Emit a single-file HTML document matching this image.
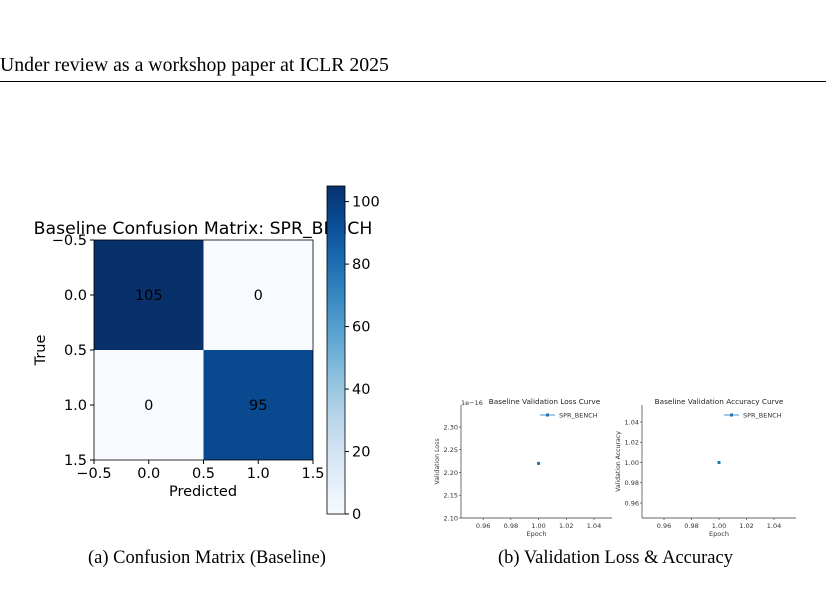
<!DOCTYPE html>
<html><head><meta charset="utf-8"><style>
body{margin:0;background:#fff;width:826px;height:602px;overflow:hidden;position:relative;font-family:"Liberation Serif",serif}
.hdr{position:absolute;left:0;top:54px;font-size:19.8px;color:#000}
.rule{position:absolute;left:0;top:81px;width:826px;height:1px;background:#000}
.cap{position:absolute;top:548px;font-size:18.5px}
svg{position:absolute;left:0;top:0}
svg text{font-family:"DejaVu Sans","Liberation Sans",sans-serif}
</style></head><body>
<div class="hdr">Under review as a workshop paper at ICLR 2025</div>
<div class="rule"></div>
<div class="cap" style="left:88px">(a) Confusion Matrix (Baseline)</div>
<div class="cap" style="left:498px">(b) Validation Loss &amp; Accuracy</div>
<svg id="s" width="826" height="602"></svg>
<script>
const cmValues=[[105,0],[0,95]];
const cmTicks=[-0.5,0.0,0.5,1.0,1.5];
const cbTicks=[0,20,40,60,80,100];
const lossEpochs=[1.0];
const lossValues=[2.22];
const lossYTicks=[2.10,2.15,2.20,2.25,2.30];
const accEpochs=[1.0];
const accValues=[1.0];
const accYTicks=[0.96,0.98,1.00,1.02,1.04];
const epochTicks=[0.96,0.98,1.00,1.02,1.04];

const S=document.getElementById('s');const NS='http://www.w3.org/2000/svg';
function el(t,a,txt){const e=document.createElementNS(NS,t);for(const k in a)e.setAttribute(k,a[k]);if(txt!==undefined)e.textContent=txt;S.appendChild(e);return e;}
function blues(v){const t=Math.max(0,Math.min(1,v/105));
 const stops=[[247,251,255],[222,235,247],[198,219,239],[158,202,225],[107,174,214],[66,146,198],[33,113,181],[8,81,156],[8,48,107]];
 const p=t*8,i=Math.min(7,Math.floor(p)),f=p-i;const a=stops[i],b=stops[i+1];
 return 'rgb('+a.map((c,k)=>Math.round(c+(b[k]-c)*f)).join(',')+')';}
// confusion matrix
const L=94,R=313,T=240,B=460;
const cx=v=>L+(v+0.5)/2*(R-L), cy=v=>T+(v+0.5)/2*(B-T);
for(let r=0;r<2;r++)for(let c=0;c<2;c++){
 const x0=cx(c-0.5),y0=cy(r-0.5);
 const rc=el('rect',{x:x0,y:y0,width:cx(c+0.5)-x0,height:cy(r+0.5)-y0,fill:blues(cmValues[r][c])});
 
 
 const tx=el('text',{x:cx(c),y:cy(r)+5,'font-size':14.5,'text-anchor':'middle',fill:'#000'},cmValues[r][c]);
 
 
}
el('rect',{x:L,y:T,width:R-L,height:B-T,fill:'none',stroke:'#000','stroke-width':0.8});
cmTicks.forEach(v=>{
 el('line',{x1:cx(v),x2:cx(v),y1:B,y2:B+4,stroke:'#000'});
 const a=el('text',{x:cx(v),y:B+18,'font-size':14.5,'text-anchor':'middle'},String(v.toFixed(1)).replace('-','\u2212'));
 
 
 el('line',{x1:L-4,x2:L,y1:cy(v),y2:cy(v),stroke:'#000'});
 const b=el('text',{x:L-7,y:cy(v)+5,'font-size':14.5,'text-anchor':'end'},String(v.toFixed(1)).replace('-','\u2212'));
 
 
});
el('text',{x:203,y:234,'font-size':17.3,'text-anchor':'middle'},'Baseline Confusion Matrix: SPR_BENCH');
el('text',{x:203,y:496,'font-size':14.5,'text-anchor':'middle'},'Predicted');
el('text',{x:45,y:350,'font-size':14.5,'text-anchor':'middle',transform:'rotate(-90 45 350)'},'True');
// colorbar
const cbL=327,cbW=18,cbB=514,cbT=186,cbMax=105;
const cbY=v=>cbB-v/cbMax*(cbB-cbT);
const defs=el('defs',{});const g=document.createElementNS(NS,'linearGradient');g.setAttribute('id','gr');g.setAttribute('x1',0);g.setAttribute('y1',1);g.setAttribute('x2',0);g.setAttribute('y2',0);defs.appendChild(g);
for(let i=0;i<=10;i++){const st=document.createElementNS(NS,'stop');st.setAttribute('offset',i/10);st.setAttribute('stop-color',blues(i/10*cbMax));g.appendChild(st);}
const cb=el('rect',{x:cbL,y:cbT,width:cbW,height:cbB-cbT,fill:'url(#gr)',stroke:'#000','stroke-width':0.8});

cbTicks.forEach(v=>{el('line',{x1:cbL+cbW,x2:cbL+cbW+4,y1:cbY(v),y2:cbY(v),stroke:'#000'});
 const t=el('text',{x:cbL+cbW+7,y:cbY(v)+5,'font-size':14.5},v);});
// small plots
function small(o){
 const xs=v=>o.L+(v-o.x0)/(o.x1-o.x0)*(o.R-o.L), ys=v=>o.B-(v-o.y0)/(o.y1-o.y0)*(o.B-o.T);
 el('line',{x1:o.L,x2:o.L,y1:o.T,y2:o.B,stroke:'#333','stroke-width':0.7});
 el('line',{x1:o.L,x2:o.R,y1:o.B,y2:o.B,stroke:'#333','stroke-width':0.7});
 epochTicks.forEach(v=>{el('line',{x1:xs(v),x2:xs(v),y1:o.B,y2:o.B+2,stroke:'#333','stroke-width':0.6});
  el('text',{x:xs(v),y:o.B+10,'font-size':6.5,'text-anchor':'middle',fill:'#333'},v.toFixed(2));});
 o.yt.forEach(v=>{el('line',{x1:o.L-2,x2:o.L,y1:ys(v),y2:ys(v),stroke:'#333','stroke-width':0.6});
  el('text',{x:o.L-3,y:ys(v)+2.3,'font-size':6.5,'text-anchor':'end',fill:'#333'},v.toFixed(2));});
 o.xv.forEach((x,i)=>{const p=el('rect',{x:xs(x)-1.5,y:ys(o.yv[i])-1.5,width:3,height:3,fill:'#1f77b4'});});
 el('text',{x:(o.L+o.R)/2+o.tdx,y:o.T-1,'font-size':7.3,'text-anchor':'middle',fill:'#222'},o.title);
 el('text',{x:(o.L+o.R)/2,y:o.B+18,'font-size':6.5,'text-anchor':'middle',fill:'#333'},'Epoch');
 el('text',{x:o.L-22,y:(o.T+o.B)/2,'font-size':6.2,'text-anchor':'middle',fill:'#333',transform:'rotate(-90 '+(o.L-22)+' '+(o.T+o.B)/2+')'},o.ylab);
 const lx=o.R-72,ly=o.T+10;
 el('line',{x1:lx,x2:lx+15,y1:ly,y2:ly,stroke:'#1f77b4','stroke-width':0.8});
 el('rect',{x:lx+6,y:ly-1.5,width:3,height:3,fill:'#1f77b4'});
 el('text',{x:lx+19,y:ly+2.3,'font-size':6.5,fill:'#333'},'SPR_BENCH');
}
small({name:'loss',L:461,R:612,T:405,B:518,x0:0.944,x1:1.053,y0:2.10,y1:2.10+113/22.75*0.05,yt:lossYTicks,xv:lossEpochs,yv:lossValues,title:'Baseline Validation Loss Curve',ylab:'Validation Loss',tdx:8});
el('text',{x:461,y:405,'font-size':6.5,fill:'#333'},'1e\u221216');
small({name:'acc',L:642,R:796,T:405,B:518,x0:0.944,x1:1.056,y0:0.96-15/20.25*0.02,y1:1.04+17/20.25*0.02,yt:accYTicks,xv:accEpochs,yv:accValues,title:'Baseline Validation Accuracy Curve',ylab:'Validation Accuracy',tdx:0});
</script>
</body></html>
